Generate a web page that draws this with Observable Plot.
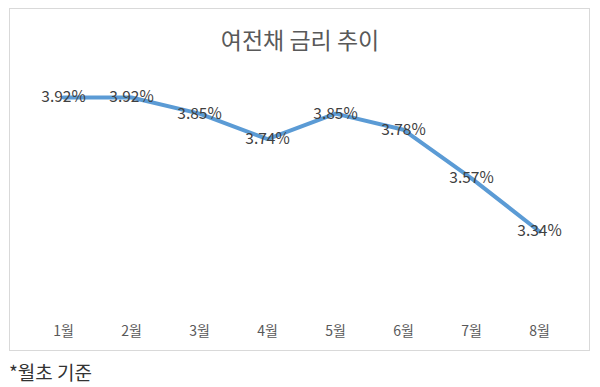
<!DOCTYPE html>
<html>
<head>
<meta charset="utf-8">
<script src="https://cdn.jsdelivr.net/npm/d3@7"></script>
<script src="https://cdn.jsdelivr.net/npm/@observablehq/plot@0.6"></script>
<style>
  html, body { margin: 0; padding: 0; background: #fff; }
  #wrap { position: relative; width: 600px; height: 387px; overflow: hidden; font-family: "Noto Sans CJK KR", "Noto Sans", sans-serif; }
  #box { position: absolute; left: 9px; top: 8px; width: 581px; height: 343px; border: 1.5px solid #d9d9d9; box-sizing: border-box; }
  #title { position: absolute; left: 0; width: 600px; top: 22px; text-align: center; font-size: 23px; line-height: 34px; color: #595959; }
  #chart { position: absolute; left: 0; top: 0; }
  #caption { position: absolute; left: 9px; top: 358px; font-size: 19px; line-height: 28px; color: #333; font-weight: 400; }
</style>
</head>
<body>
<div id="wrap">
  <div id="box"></div>
  <div id="title">여전채 금리 추이</div>
  <div id="chart"></div>
  <div id="caption">*월초 기준</div>
</div>
<script>
const months = ["1월", "2월", "3월", "4월", "5월", "6월", "7월", "8월"];
const rates = [3.92, 3.92, 3.85, 3.74, 3.85, 3.78, 3.57, 3.34];

const data = months.map((m, i) => ({ month: m, rate: rates[i] }));

const chart = Plot.plot({
  width: 600,
  height: 355,
  marginLeft: 62,
  marginRight: 60,
  marginTop: 78.5,
  marginBottom: 45.5,
  style: { background: "transparent", fontFamily: "'Noto Sans CJK KR', 'Noto Sans', sans-serif", overflow: "visible" },
  x: { type: "point", domain: months, padding: 0, label: null },
  y: { domain: [3.0, 4.0], axis: null },
  marks: [
    Plot.axisX({ tickSize: 0, tickPadding: 16, fontSize: 14, color: "#595959", label: null }),
    Plot.line(data, { x: "month", y: "rate", stroke: "#5b9bd5", strokeWidth: 4, strokeLinejoin: "round", strokeLinecap: "round" }),
    Plot.text(data, { x: "month", y: "rate", text: d => d.rate.toFixed(2) + "%", fill: "#404040", fontSize: 15.5 })
  ]
});
document.getElementById("chart").appendChild(chart);
</script>
</body>
</html>
